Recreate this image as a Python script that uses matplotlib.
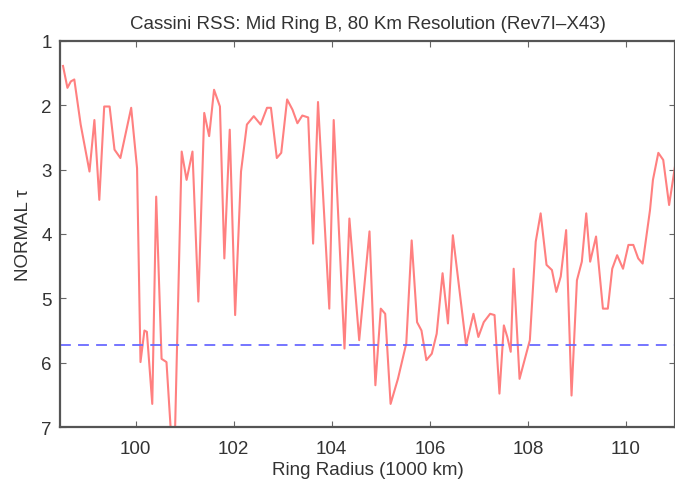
import matplotlib
matplotlib.use('Agg')
import matplotlib.pyplot as plt

# ring radius (1000 km) and normal optical depth
radius = [98.52, 98.61, 98.68, 98.75, 98.88, 99.06, 99.16, 99.26, 99.36, 99.47,
          99.57, 99.69, 99.91, 100.03, 100.10, 100.18, 100.23, 100.34, 100.42, 100.53,
          100.63, 100.73, 100.80, 100.94, 101.04, 101.16, 101.28, 101.40, 101.50, 101.60,
          101.72, 101.81, 101.92, 102.03, 102.15, 102.27, 102.41, 102.55, 102.68, 102.76,
          102.88, 102.97, 103.09, 103.20, 103.30, 103.40, 103.52, 103.62, 103.72, 103.95,
          104.04, 104.26, 104.36, 104.56, 104.77, 104.89, 105.00, 105.09, 105.20, 105.35,
          105.52, 105.63, 105.74, 105.83, 105.93, 106.04, 106.14, 106.26, 106.37, 106.47,
          106.74, 106.89, 106.99, 107.10, 107.23, 107.32, 107.42, 107.51, 107.58, 107.65,
          107.71, 107.83, 108.04, 108.16, 108.26, 108.38, 108.49, 108.58, 108.67, 108.78,
          108.89, 109.00, 109.10, 109.19, 109.27, 109.39, 109.53, 109.63, 109.72, 109.82,
          109.94, 110.05, 110.15, 110.25, 110.34, 110.49, 110.55, 110.66, 110.76, 110.88,
          111.00]
tau = [1.39, 1.73, 1.63, 1.60, 2.30, 3.03, 2.23, 3.47, 2.02, 2.02,
       2.69, 2.82, 2.04, 2.98, 5.99, 5.50, 5.52, 6.64, 3.42, 5.94,
       5.99, 7.20, 7.20, 2.72, 3.16, 2.72, 5.05, 2.12, 2.48, 1.76,
       2.02, 4.38, 2.38, 5.26, 3.03, 2.30, 2.17, 2.30, 2.04, 2.04,
       2.82, 2.74, 1.91, 2.07, 2.28, 2.16, 2.19, 4.15, 1.95, 5.16,
       2.23, 5.78, 3.76, 5.65, 3.96, 6.35, 5.16, 5.24, 6.64, 6.25,
       5.70, 4.10, 5.37, 5.50, 5.96, 5.86, 5.55, 4.61, 5.39, 4.02,
       5.73, 5.24, 5.60, 5.37, 5.24, 5.26, 6.48, 5.42, 5.60, 5.83,
       4.54, 6.25, 5.65, 4.12, 3.68, 4.48, 4.56, 4.90, 4.66, 3.94,
       6.51, 4.72, 4.43, 3.68, 4.43, 4.04, 5.16, 5.16, 4.54, 4.33,
       4.54, 4.17, 4.17, 4.38, 4.46, 3.63, 3.16, 2.74, 2.85, 3.55,
       2.95]
mean_tau = 5.73

plt.rcParams['font.family'] = ['Liberation Sans', 'DejaVu Sans']

fig = plt.figure(figsize=(6.75, 4.81), dpi=100)
ax = fig.add_axes([0.089, 0.110, 0.911, 0.803])

ax.plot(radius, tau, color='#ff8080', lw=1.5)
ax.axhline(mean_tau, color='#6a6aff', lw=1.3, ls=(0, (6, 4)))

ax.set_xlim(98.46, 111.0)
ax.set_ylim(7, 1)
ax.set_xticks([100, 102, 104, 106, 108, 110])
ax.set_yticks([1, 2, 3, 4, 5, 6, 7])

txt = '#333333'
ax.tick_params(axis='both', direction='in', top=True, right=True, length=4, width=0.8,
               colors='#666666', labelcolor=txt, labelsize=13.5)
ax.tick_params(axis='x', pad=9)
ax.tick_params(axis='y', pad=6)
for s in ax.spines.values():
    s.set_color('#555555')
    s.set_linewidth(1.6)

ax.set_title('Cassini RSS: Mid Ring B, 80 Km Resolution (Rev7I\u2013X43)',
             fontsize=13.5, color=txt, pad=9)
ax.set_xlabel('Ring Radius (1000 km)', fontsize=13.5, color=txt, labelpad=3)
ax.set_ylabel('NORMAL \u03c4', fontsize=13.5, color=txt, labelpad=7)

fig.savefig('out.png', dpi=100)
